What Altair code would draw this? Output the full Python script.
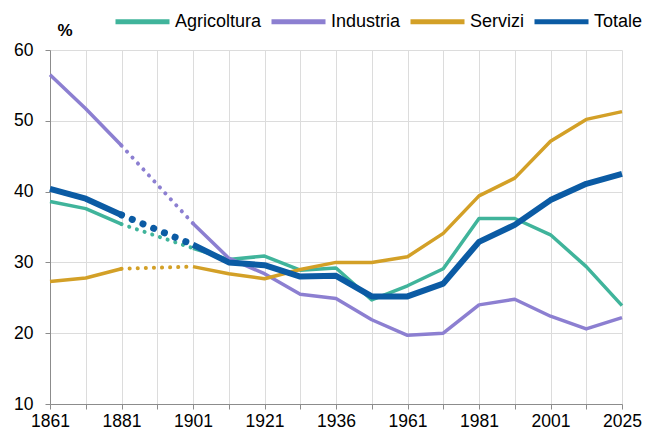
import altair as alt
import pandas as pd

anni = ["1861", "1871", "1881", "1891", "1901", "1911", "1921", "1931", "1936",
        "1951", "1961", "1971", "1981", "1991", "2001", "2011", "2025"]
etichette = ["1861", "1881", "1901", "1921", "1936", "1961", "1981", "2001", "2025"]

serie = ["Agricoltura", "Industria", "Servizi", "Totale"]
colori = ["#40b49b", "#8c7fd1", "#d3a027", "#0b5ba4"]

agricoltura = [38.6, 37.6, 35.4, None, 32.0, 30.4, 30.9, 28.9, 29.2, 24.7, 26.7, 29.1, 36.2, 36.2, 33.9, 29.4, 23.9]
industria = [56.5, 51.7, 46.5, None, 35.5, 30.6, 28.4, 25.5, 24.9, 21.9, 19.7, 20.0, 24.0, 24.8, 22.4, 20.6, 22.2]
servizi = [27.3, 27.8, 29.1, None, 29.4, 28.4, 27.7, 29.0, 30.0, 30.0, 30.8, 34.1, 39.4, 41.9, 47.1, 50.2, 51.3]
totale = [40.4, 39.0, 36.7, None, 32.5, 30.0, 29.6, 28.0, 28.1, 25.2, 25.2, 27.0, 32.9, 35.3, 38.8, 41.1, 42.5]

valori = {"Agricoltura": agricoltura, "Industria": industria, "Servizi": servizi, "Totale": totale}

solid_rows = []
dot_rows = []
for s in serie:
    v = valori[s]
    for i, a in enumerate(anni):
        if v[i] is None:
            continue
        seg = "a" if i < 3 else "b"
        solid_rows.append({"anno": a, "valore": v[i], "serie": s, "seg": s + seg})
    # dotted bridge across the missing 1891 census
    for i in (2, 4):
        dot_rows.append({"anno": anni[i], "valore": v[i], "serie": s})

solid = pd.DataFrame(solid_rows)
dots = pd.DataFrame(dot_rows)

label_expr = "indexof(" + str(etichette) + ", datum.label) >= 0 ? datum.label : ''"

x = alt.X("anno:O", scale=alt.Scale(domain=anni, type="point", padding=0),
          axis=alt.Axis(title=None, labelAngle=0, labelExpr=label_expr, labelOverlap=False,
                        grid=True, ticks=True, tickSize=5, labelPadding=3))
y = alt.Y("valore:Q", scale=alt.Scale(domain=[10, 60], nice=False, zero=False),
          axis=alt.Axis(values=[10, 20, 30, 40, 50, 60], title="%", titleAngle=0,
                        titleX=7, titleY=-15, titleAlign="left", titleBaseline="alphabetic",
                        titleFontWeight="bold", titleFontSize=17, titleFont="Liberation Sans",
                        tickSize=5, labelPadding=12, grid=True))
color = alt.Color("serie:N", scale=alt.Scale(domain=serie, range=colori),
                  sort=serie,
                  legend=alt.Legend(title=None, orient="none", direction="horizontal",
                                    legendX=63, legendY=-58, symbolType="stroke",
                                    symbolSize=2916, symbolStrokeWidth=5,
                                    labelFontSize=18, labelFont="Liberation Sans",
                                    labelOffset=3, columnPadding=-1, labelColor="#000000"))

thin_solid = alt.Chart(solid).transform_filter("datum.serie != 'Totale'").mark_line(
    strokeWidth=3.5, strokeJoin="round").encode(x=x, y=y, color=color, detail="seg:N")
tot_solid = alt.Chart(solid).transform_filter("datum.serie == 'Totale'").mark_line(
    strokeWidth=6, strokeJoin="round").encode(x=x, y=y, color=color, detail="seg:N")
thin_dots = alt.Chart(dots).transform_filter("datum.serie != 'Totale'").mark_line(
    strokeWidth=4, strokeCap="round", strokeDash=[0.1, 8]).encode(x=x, y=y, color=color)
tot_dots = alt.Chart(dots).transform_filter("datum.serie == 'Totale'").mark_line(
    strokeWidth=7, strokeCap="round", strokeDash=[0.1, 11.5]).encode(x=x, y=y, color=color)

chart = alt.layer(thin_solid, thin_dots, tot_solid, tot_dots).properties(
    width=572, height=354,
    autosize=alt.AutoSizeParams(type="none"),
    padding={"left": 42, "top": 42, "right": 21, "bottom": 27},
).configure_view(stroke=None).configure_axis(
    labelFont="Liberation Sans", labelFontSize=17.5, labelColor="#000000",
    domainColor="#8c8c8c", tickColor="#8c8c8c", gridColor="#dcdcdc",
    domainWidth=1, tickWidth=1, gridWidth=1,
)

chart.save("out.html", embed_options={"renderer": "svg", "actions": False})
